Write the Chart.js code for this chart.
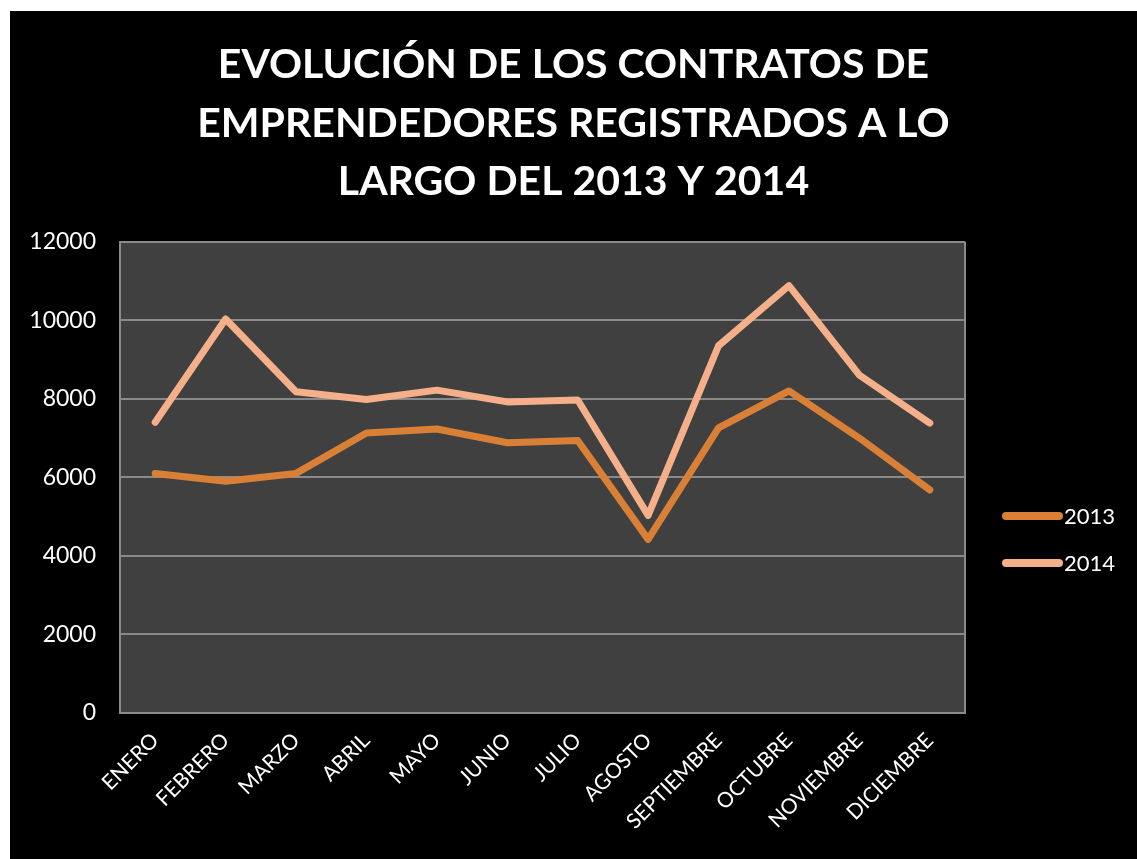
<!DOCTYPE html>
<html>
<head>
<meta charset="utf-8">
<script src="https://cdn.jsdelivr.net/npm/chart.js@4.4.1/dist/chart.umd.min.js"></script>
<style>
    html, body { margin: 0; padding: 0; background: #ffffff; }
    #wrap { position: absolute; left: 10px; top: 11px; width: 1127px; height: 848px; background: #000000; }
</style>
</head>
<body>
<div id="wrap"><canvas id="contratosChart" width="1127" height="848"></canvas></div>
<script>
// Data
const months = ['ENERO', 'FEBRERO', 'MARZO', 'ABRIL', 'MAYO', 'JUNIO', 'JULIO',
    'AGOSTO', 'SEPTIEMBRE', 'OCTUBRE', 'NOVIEMBRE', 'DICIEMBRE'];
const values2013 = [6100, 5900, 6100, 7130, 7230, 6880, 6940, 4420, 7260, 8200, 7000, 5680];
const values2014 = [7400, 10030, 8180, 7980, 8220, 7920, 7970, 5030, 9350, 10880, 8600, 7380];
const seriesLabels = ['2013', '2014'];
const yTicks = [0, 2000, 4000, 6000, 8000, 10000, 12000];
const titleLines = ['EVOLUCIÓN DE LOS CONTRATOS DE', 'EMPRENDEDORES REGISTRADOS A LO', 'LARGO DEL 2013 Y 2014'];

const color2013 = '#da8036';
const color2014 = '#f5b08a';
const gridColor = '#8a8a8a';

// plot background + right border
const plotFrame = {
    id: 'plotFrame',
    beforeDraw(chart) {
        const { ctx, chartArea: a } = chart;
        ctx.save();
        ctx.fillStyle = '#404040';
        ctx.fillRect(a.left, a.top, a.right - a.left, a.bottom - a.top);
        ctx.restore();
    },
    afterDatasetsDraw(chart) {
        const { ctx, chartArea: a } = chart;
        ctx.save();
        ctx.strokeStyle = gridColor;
        ctx.lineWidth = 2;
        ctx.beginPath();
        ctx.moveTo(a.right, a.top);
        ctx.lineTo(a.right, a.bottom);
        ctx.stroke();
        ctx.restore();
    }
};

// legend on the right, line samples like the reference
const sideLegend = {
    id: 'sideLegend',
    afterDraw(chart) {
        const ctx = chart.ctx;
        ctx.save();
        chart.data.datasets.forEach((ds, i) => {
            const y = 505 + i * 47;
            ctx.strokeStyle = ds.borderColor;
            ctx.lineWidth = 8;
            ctx.lineCap = 'round';
            ctx.beginPath();
            ctx.moveTo(996, y);
            ctx.lineTo(1049, y);
            ctx.stroke();
            ctx.fillStyle = '#ffffff';
            ctx.font = '22px Lato';
            ctx.textBaseline = 'middle';
            ctx.fillText(ds.label, 1054, y + 1);
        });
        ctx.restore();
    }
};

function initializeChart() {
    const canvas = document.getElementById('contratosChart');
    if (!canvas) {
        console.error('canvas not found');
        return;
    }
    const ctx = canvas.getContext('2d');

    new Chart(ctx, {
        type: 'line',
        data: {
            labels: months,
            datasets: [
                {
                    label: seriesLabels[0],
                    data: values2013,
                    borderColor: color2013,
                    backgroundColor: color2013,
                    borderWidth: 7,
                    pointRadius: 0,
                    tension: 0,
                    borderJoinStyle: 'round',
                    borderCapStyle: 'round'
                },
                {
                    label: seriesLabels[1],
                    data: values2014,
                    borderColor: color2014,
                    backgroundColor: color2014,
                    borderWidth: 7,
                    pointRadius: 0,
                    tension: 0,
                    borderJoinStyle: 'round',
                    borderCapStyle: 'round'
                }
            ]
        },
        options: {
            responsive: false,
            animation: false,
            layout: {
                padding: 0
            },
            scales: {
                x: {
                    offset: true,
                    grid: { display: false, drawTicks: false },
                    border: { display: true, color: gridColor, width: 2 },
                    ticks: {
                        color: '#ffffff',
                        font: { family: 'Lato', size: 21 },
                        maxRotation: 45,
                        minRotation: 45,
                        autoSkip: false,
                        padding: 15
                    },
                    afterFit(scale) { scale.height = 146; }
                },
                y: {
                    min: 0,
                    max: 12000,
                    afterBuildTicks(scale) {
                        scale.ticks = yTicks.map(v => ({ value: v }));
                    },
                    grid: { color: gridColor, lineWidth: 2, drawTicks: false },
                    border: { display: true, color: gridColor, width: 2 },
                    ticks: {
                        color: '#ffffff',
                        font: { family: 'Lato', size: 23 },
                        padding: 24,
                        callback: v => String(v)
                    },
                    afterFit(scale) { scale.width = 110; }
                },
                // empty right-hand axis that only reserves room for the legend
                legendSpace: {
                    position: 'right',
                    min: 0,
                    max: 12000,
                    grid: { display: false, drawTicks: false },
                    border: { display: false },
                    ticks: { display: false },
                    afterFit(scale) { scale.width = 172; }
                }
            },
            plugins: {
                legend: { display: false },
                tooltip: { enabled: false },
                title: {
                    display: true,
                    text: titleLines,
                    color: '#ffffff',
                    font: { family: 'Lato', size: 41, weight: 'bold', lineHeight: 1.42 },
                    padding: { top: 25, bottom: 31 }
                }
            }
        },
        plugins: [plotFrame, sideLegend]
    });
}

initializeChart();
</script>
</body>
</html>
